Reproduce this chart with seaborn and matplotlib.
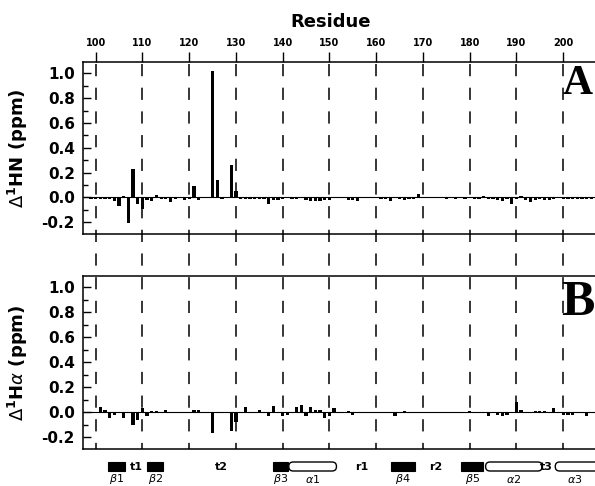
import matplotlib
matplotlib.use("Agg")
import matplotlib.pyplot as plt
import matplotlib.transforms as mtransforms
from matplotlib.lines import Line2D
from matplotlib.patches import Rectangle, FancyBboxPatch
import seaborn as sns
import numpy as np
import pandas as pd

# data
residues = list(range(99, 207))

hn_shift = [
    -0.01, -0.015, -0.015, -0.015, -0.01, -0.03, -0.07, 0.01, -0.21, 0.23,    # 99-108
    -0.05, -0.09, -0.02, -0.03, 0.02, -0.01, -0.01, -0.04, -0.01, 0.0,       # 109-118
    -0.02, -0.01, 0.09, -0.02, 0.0, 0.0, 1.02, 0.14, -0.01, 0.0,             # 119-128
    0.26, 0.05, -0.01, -0.01, -0.01, -0.01, -0.01, -0.01, -0.05, -0.02,      # 129-138
    -0.02, -0.01, 0.0, -0.01, -0.01, 0.0, -0.02, -0.03, -0.03, -0.03,        # 139-148
    -0.02, -0.02, 0.0, 0.0, 0.0, -0.02, -0.02, -0.03, 0.0, 0.0,              # 149-158
    0.0, 0.0, -0.01, -0.01, -0.03, 0.0, -0.01, -0.02, -0.01, -0.01,          # 159-168
    0.03, 0.0, 0.0, 0.0, 0.0, 0.0, -0.01, 0.0, -0.01, 0.0,                   # 169-178
    -0.01, 0.0, -0.01, -0.01, 0.01, -0.01, -0.01, -0.02, -0.03, -0.01,       # 179-188
    -0.05, -0.01, 0.01, -0.02, -0.04, -0.02, -0.01, -0.02, -0.02, -0.01,     # 189-198
    0.0, -0.01, -0.01, -0.01, -0.01, -0.01, -0.01, -0.01,                    # 199-206
]

ha_shift = [
    0.0, 0.0, 0.04, 0.02, -0.05, -0.02, 0.0, -0.05, 0.0, -0.10,              # 99-108
    -0.06, 0.03, -0.03, 0.01, 0.01, 0.0, 0.02, -0.01, -0.01, 0.0,            # 109-118
    -0.01, -0.01, 0.02, 0.02, -0.01, -0.01, -0.17, 0.0, 0.0, -0.01,          # 119-128
    -0.15, -0.08, 0.0, 0.04, 0.0, 0.0, 0.02, 0.0, -0.03, 0.05,               # 129-138
    -0.01, -0.03, -0.02, -0.01, 0.04, 0.06, -0.03, 0.04, 0.02, 0.02,         # 139-148
    -0.05, -0.03, 0.03, 0.0, 0.0, 0.01, -0.02, 0.0, 0.0, 0.0,                # 149-158
    0.0, 0.0, 0.0, 0.0, 0.0, -0.03, 0.0, 0.01, 0.0, 0.0,                     # 159-168
    0.0, 0.0, 0.0, 0.0, 0.0, 0.0, 0.0, 0.0, 0.0, 0.0,                        # 169-178
    0.0, 0.01, 0.0, -0.01, 0.0, -0.03, -0.01, -0.02, -0.03, -0.02,           # 179-188
    -0.01, 0.08, 0.02, -0.01, -0.01, 0.01, 0.01, 0.01, 0.0, 0.03,            # 189-198
    -0.01, -0.02, -0.02, -0.02, -0.01, 0.0, -0.03, -0.01,                    # 199-206
]

res_ticks = [100, 110, 120, 130, 140, 150, 160, 170, 180, 190, 200]

# secondary structure
ss_names = ['β1', 'β2', 'β3', 'α1', 'β4', 'β5', 'α2', 'α3']
ss_kind = ['strand', 'strand', 'strand', 'helix', 'strand', 'strand', 'helix', 'helix']
ss_start = [102.6, 110.9, 138.0, 141.3, 163.2, 178.2, 183.4, 198.3]
ss_end = [106.2, 114.5, 141.2, 151.5, 168.2, 182.9, 195.5, 212.0]
loop_names = ['t1', 't2', 'r1', 'r2', 't3']
loop_pos = [108.8, 126.9, 156.9, 172.7, 196.4]

df = pd.DataFrame({'Residue': residues, 'HN': hn_shift, 'HA': ha_shift})

# figure
sns.set_style("ticks")
plt.rcParams['font.family'] = 'DejaVu Sans'
plt.rcParams['mathtext.fontset'] = 'dejavusans'
for k in ['text.color', 'axes.labelcolor', 'xtick.color', 'ytick.color', 'axes.edgecolor']:
    plt.rcParams[k] = 'black'

W, H = 595, 486
fig = plt.figure(figsize=(W / 100, H / 100), dpi=100)

xlim = (97.35, 206.8)
ylim = (-0.295, 1.092)
left = 83.3 / W
axw = 1 - left

axA = fig.add_axes([left, (H - 234) / H, axw, 172 / H])
axB = fig.add_axes([left, (H - 449) / H, axw, 173 / H])

for ax, col in [(axA, 'HN'), (axB, 'HA')]:
    sns.barplot(data=df, x='Residue', y=col, native_scale=True, color='black',
                saturation=1, width=0.7, errorbar=None, linewidth=0, ax=ax)
    ax.axhline(0, color='black', lw=0.8, zorder=0)
    ax.set_xlim(*xlim)
    ax.set_ylim(*ylim)
    ax.set_yticks(np.arange(-0.2, 1.01, 0.2))
    ax.set_yticklabels(['%.1f' % v for v in np.arange(-0.2, 1.01, 0.2)],
                       fontweight='bold')
    ax.set_yticks(np.arange(-0.2, 1.01, 0.1), minor=True)
    ax.tick_params(axis='y', which='major', direction='in', length=6, width=1,
                   pad=6, labelsize=11)
    ax.tick_params(axis='y', which='minor', direction='in', length=3.5, width=1)
    ax.spines['right'].set_visible(False)
    for s in ['left', 'top', 'bottom']:
        ax.spines[s].set_linewidth(1.1)
    ax.set_xlabel('')

axA.xaxis.tick_top()
axA.set_xticks(res_ticks)
axA.set_xticklabels([str(t) for t in res_ticks], fontweight='bold')
axA.tick_params(axis='x', which='major', direction='out', length=7, width=1,
                pad=3, labelsize=7, top=True, bottom=False)
axA.tick_params(axis='x', which='minor', top=False, bottom=False)
axB.set_xticks([])

axA.set_ylabel(r'$\Delta^{\mathbf{1}}$HN (ppm)', fontsize=13, fontweight='bold')
axB.set_ylabel(r'$\Delta^{\mathbf{1}}$H$\alpha$ (ppm)', fontsize=13, fontweight='bold')
axA.yaxis.set_label_coords(-0.105, 0.5)
axB.yaxis.set_label_coords(-0.105, 0.5)

fig.text(331 / W, 1 - 22 / H, 'Residue', ha='center', va='center',
         fontsize=13, fontweight='bold')

# panel letters, kept just inside the right edge
fig.text(593 / W, 1 - 84 / H, 'A', ha='right', va='center', fontsize=30,
         fontweight='bold', family='Liberation Serif')
fig.text(594 / W, 1 - 303 / H, 'B', ha='right', va='center', fontsize=36,
         fontweight='bold', family='Liberation Serif')

# dashed guide lines through both panels
trans = mtransforms.blended_transform_factory(axA.transData, fig.transFigure)
for t in res_ticks:
    fig.add_artist(Line2D([t, t], [1 - 64 / H, 1 - 449 / H], transform=trans,
                          color='black', lw=1.1, dashes=(8, 7.5)))

# secondary structure strip
axS = fig.add_axes([left, 0, axw, 34 / H])
axS.set_xlim(*xlim)
axS.set_ylim(0, 34)
axS.axis('off')
px_per_res = axw * W / (xlim[1] - xlim[0])
for name, kind, a, b in zip(ss_names, ss_kind, ss_start, ss_end):
    if kind == 'strand':
        axS.add_patch(Rectangle((a, 15), b - a, 9, facecolor='black',
                                edgecolor='black', lw=0.8))
    else:
        axS.add_patch(FancyBboxPatch((a, 15), b - a, 9,
                                     boxstyle='round,pad=0,rounding_size=%.3f' % (4.4 / px_per_res),
                                     mutation_aspect=px_per_res,
                                     facecolor='white', edgecolor='black', lw=1.0,
                                     clip_on=False))
    xc = (a + b) / 2 if b < xlim[1] else a + 4.2
    greek = '$\\' + ('beta' if name[0] == 'β' else 'alpha') + '$' + name[1:]
    axS.text(xc, 7.5, greek, ha='center', va='center', fontsize=8,
             fontweight='normal')
for name, x in zip(loop_names, loop_pos):
    axS.text(x, 19.5, name, ha='center', va='center', fontsize=8, fontweight='bold')

fig.savefig('out.png', dpi=100)
